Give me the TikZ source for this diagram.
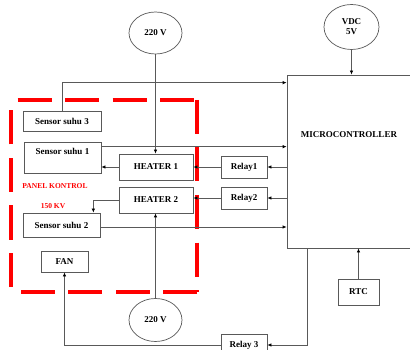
\documentclass[tikz,border=0pt]{standalone}
\usepackage{fontspec}
\setmainfont{Liberation Serif}
\usetikzlibrary{shapes.geometric,arrows.meta}

\begin{document}
\begin{tikzpicture}[x=1pt,y=-1pt,>={Latex[length=4pt,width=3.5pt,color=black]},
    font=\fontsize{9}{10}\selectfont\bfseries,
    kotak/.style={draw=black!65,line width=0.7pt,inner sep=0pt},
    sumber/.style={ellipse,draw=black!65,line width=0.7pt,inner sep=0pt},
    kabel/.style={draw=black!65,line width=0.7pt},
    panel/.style={draw=red,line width=4pt,dash pattern=on 34pt off 13.5pt},
    merah/.style={red,font=\fontsize{7.5}{8}\selectfont\bfseries}]
    \useasboundingbox (0,0) rectangle (410,350);
    \clip (0,0) rectangle (410,350);

% panel kontrol
    \draw[panel,dash phase=41pt] (11,100)--(197,100);
    \draw[panel] (197,100)--(197,292);
    \draw[panel] (197,292)--(11,292);
    \draw[panel,dash phase=42.5pt] (11,292)--(11,100);
    \node[merah] (pk) at (55,186) {PANEL KONTROL};
    \node[merah] (kv) at (53,206) {150 KV};

% sumber tegangan
    \node[sumber,minimum width=53pt,minimum height=42pt] (v1) at (155.5,33) {220 V};
    \node[sumber,minimum width=53pt,minimum height=43pt] (v2) at (155.5,320) {220 V};
    \node[sumber,minimum width=55pt,minimum height=45pt,align=center] (vdc) at (351.5,27) {VDC\\5V};

% blok
    \node[kotak,minimum width=128pt,minimum height=173pt] (mcu) at (351,161.5) {};
    \node (mcutxt) at (349,135) {MICROCONTROLLER};
    \node[kotak,minimum width=78pt,minimum height=20pt] (s3) at (62,121) {Sensor suhu 3};
    \node[kotak,minimum width=77pt,minimum height=31pt,inner ysep=3pt,text height=10pt,text depth=15pt] (s1) at (62.5,157.5) {Sensor suhu 1};
    \node[kotak,minimum width=77pt,minimum height=24pt] (s2) at (61.5,225) {Sensor suhu 2};
    \node[kotak,minimum width=74pt,minimum height=26pt] (h1) at (156,167) {HEATER 1};
    \node[kotak,minimum width=74pt,minimum height=26pt] (h2) at (156,200) {HEATER 2};
    \node[kotak,minimum width=46pt,minimum height=22pt] (r1) at (244,167) {Relay1};
    \node[kotak,minimum width=46pt,minimum height=22pt] (r2) at (244,198) {Relay2};
    \node[kotak,minimum width=46pt,minimum height=22pt] (r3) at (244,345) {Relay 3};
    \node[kotak,minimum width=47pt,minimum height=21pt] (fan) at (64.5,261.5) {FAN};
    \node[kotak,minimum width=41pt,minimum height=26pt] (rtc) at (358.5,292) {RTC};

% kabel
    \draw[kabel,->] (v1.south) -- (v1.south |- h1.north);
    \draw[kabel,->] (v2.north) -- (v2.north |- h2.south);
    \draw[kabel,->] (vdc.south) -- (vdc.south |- mcu.north);
    \draw[kabel,->] (rtc.north) -- (rtc.north |- mcu.south);
    \draw[kabel,->] (s3.north) |- ([yshift=-8pt]mcu.north west);
    \draw[kabel,->] ([yshift=-5pt]s1.north east) -- ([yshift=-5pt]s1.north east -| mcu.west);
    \draw[kabel,->] ([yshift=-2pt]s2.east) -- ([yshift=-2pt]s2.east -| mcu.west);
    \draw[kabel,->] (h1.west) -- (h1.west -| s1.east);
    \draw[kabel,->] (r1.west) -- (h1.east);
    \draw[kabel,->] (mcu.west |- r1.east) -- (r1.east);
    \draw[kabel,->] (r2.west) -- (r2.west -| h2.east);
    \draw[kabel,->] (mcu.west |- r2.east) -- (r2.east);
    \draw[kabel,->] (h2.west) -| ([xshift=-7pt]s2.north east);
    \draw[kabel,->] ([xshift=21pt]mcu.south west) |- (r3.east);
    \draw[kabel,->] (r3.west) -| (fan.south);
\end{tikzpicture}
\end{document}
